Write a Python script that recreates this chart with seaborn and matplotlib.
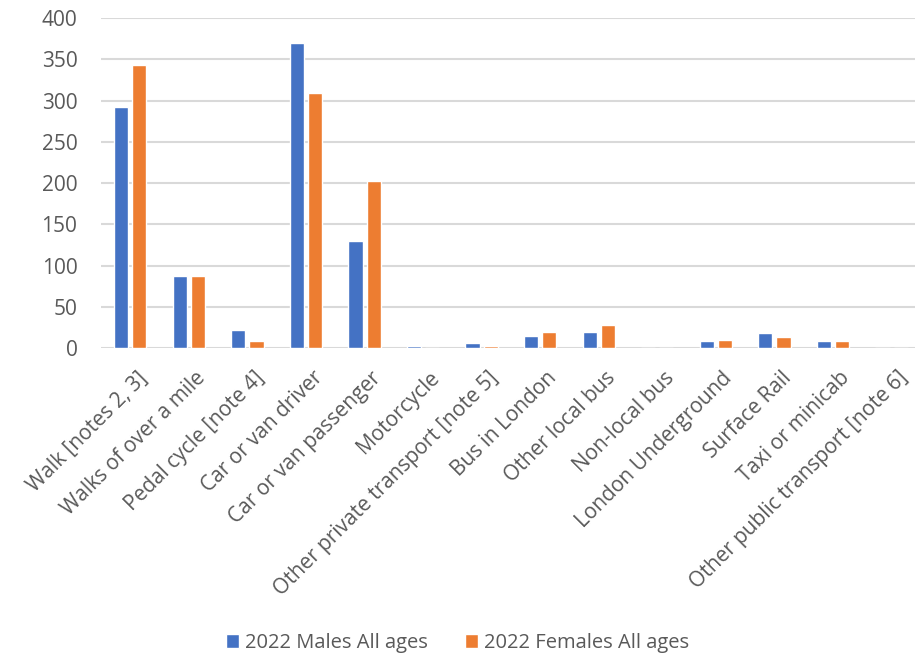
import matplotlib
matplotlib.use("Agg")
import matplotlib.pyplot as plt
import matplotlib.transforms as mtransforms
import seaborn as sns
import pandas as pd

categories = [
    "Walk [notes 2, 3]", "Walks of over a mile", "Pedal cycle [note 4]",
    "Car or van driver", "Car or van passenger", "Motorcycle",
    "Other private transport [note 5]", "Bus in London", "Other local bus",
    "Non-local bus", "London Underground", "Surface Rail", "Taxi or minicab",
    "Other public transport [note 6]",
]
males = [292, 87, 22, 370, 130, 3, 6, 15, 20, 0, 8, 18, 8, 0]
females = [343, 87, 8, 309, 202, 0, 3, 20, 28, 0, 10, 13, 8, 0]
series = ["2022 Males All ages", "2022 Females All ages"]
colors = ["#4472C4", "#ED7D31"]
yticks = [0, 50, 100, 150, 200, 250, 300, 350, 400]

df = pd.DataFrame({
    "mode": categories * 2,
    "value": males + females,
    "series": [series[0]] * len(categories) + [series[1]] * len(categories),
})

sns.set_theme(style="white")
plt.rcParams["font.family"] = ["Open Sans", "DejaVu Sans"]
text_color = "#595959"

fig = plt.figure(figsize=(9.15, 6.56), dpi=100)
# plot area runs slightly past the right edge of the canvas
ax = fig.add_axes([0.1104, 0.4695, 0.896, 0.503])

sns.barplot(data=df, x="mode", y="value", hue="series", order=categories,
            hue_order=series, palette=colors, width=0.62, gap=0.22,
            saturation=1, ax=ax, legend=True)

ax.set_ylim(0, 400)
ax.set_xlim(-0.5, len(categories) - 0.5)
ax.set_yticks(yticks)
ax.set_yticklabels([str(v) for v in yticks], fontsize=15, color=text_color)
ax.tick_params(axis="y", length=0, pad=17)
ax.set_xticks(range(len(categories)))
ax.set_xticklabels(categories, rotation=45, ha="right", va="top",
                   rotation_mode="anchor", fontsize=15, color=text_color)
ax.tick_params(axis="x", length=0, pad=14)
shift = mtransforms.ScaledTranslation(0.06, 0.0, fig.dpi_scale_trans)
for lbl in ax.get_xticklabels():
    lbl.set_transform(lbl.get_transform() + shift)
ax.set_xlabel("")
ax.set_ylabel("")
ax.yaxis.grid(True, color="#d9d9d9", linewidth=1.5)
ax.set_axisbelow(True)
for s in ax.spines.values():
    s.set_visible(False)

handles, labels = ax.get_legend_handles_labels()
ax.legend_.remove()
fig.legend(handles, labels, loc="center", bbox_to_anchor=(0.5, 0.02),
           ncol=2, frameon=False, fontsize=14.5, labelcolor=text_color,
           handlelength=0.65, handleheight=0.65, handletextpad=0.3,
           columnspacing=1.85)

fig.savefig("out.png", dpi=100)
